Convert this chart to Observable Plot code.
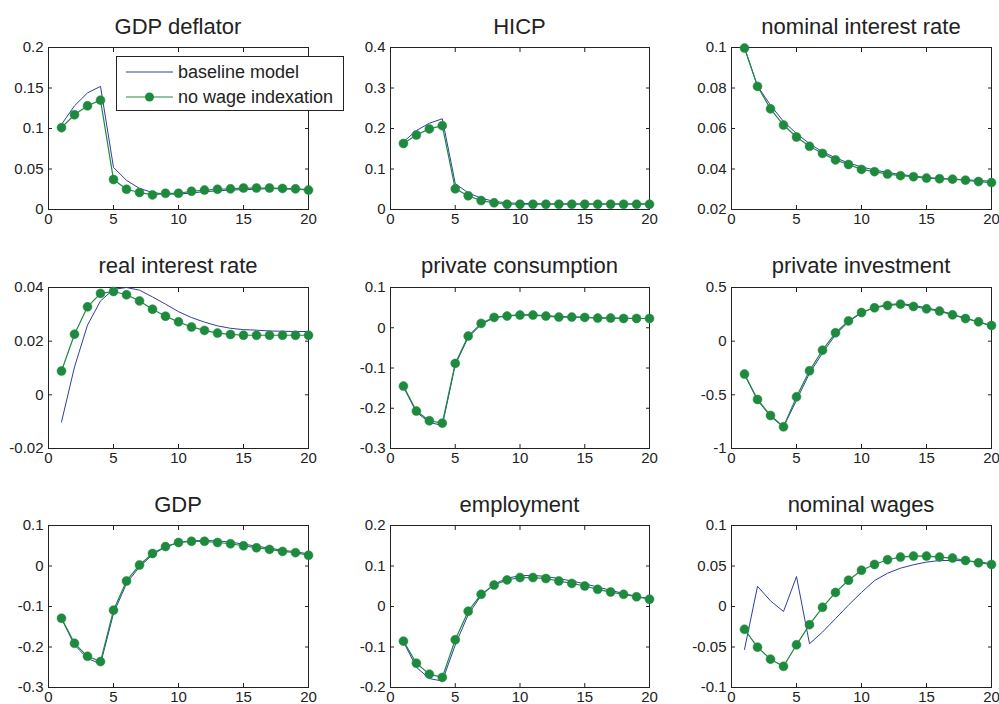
<!DOCTYPE html>
<html><head><meta charset="utf-8">
<script src="https://cdn.jsdelivr.net/npm/d3@7"></script>
<script src="https://cdn.jsdelivr.net/npm/@observablehq/plot@0.6"></script>
<style>
body{margin:0;background:#fff;font-family:"Liberation Sans",Arial,Helvetica,sans-serif;}
#wrap{position:relative;width:999px;height:704px;overflow:hidden;background:#fff;}
.panel{position:absolute;}
.title{position:absolute;text-align:center;font-size:22px;color:#222;white-space:nowrap;line-height:26px;}
#legend{position:absolute;box-sizing:border-box;border:1px solid #222;background:#fff;}
</style></head><body><div id="wrap"></div>
<script>
// ---- data ----
const periods = [1,2,3,4,5,6,7,8,9,10,11,12,13,14,15,16,17,18,19,20];
const xTicks = [0,5,10,15,20];
const seriesNames = ["baseline model", "no wage indexation"];
const panelTitles = ["GDP deflator","HICP","nominal interest rate","real interest rate","private consumption","private investment","GDP","employment","nominal wages"];

const gdpDeflatorTicks = [0,0.05,0.1,0.15,0.2];
const gdpDeflatorBaseline = [0.105,0.128,0.144,0.152,0.052,0.036,0.026,0.021,0.019,0.019,0.0205,0.022,0.023,0.024,0.0245,0.025,0.026,0.0255,0.025,0.025];
const gdpDeflatorNoIndex  = [0.101,0.117,0.128,0.135,0.037,0.025,0.021,0.018,0.020,0.020,0.0225,0.024,0.025,0.0255,0.0265,0.0265,0.0265,0.026,0.0255,0.024];

const hicpTicks = [0,0.1,0.2,0.3,0.4];
const hicpBaseline = [0.167,0.195,0.213,0.224,0.064,0.041,0.028,0.020,0.0165,0.015,0.0145,0.014,0.014,0.014,0.014,0.014,0.014,0.014,0.014,0.014];
const hicpNoIndex  = [0.163,0.184,0.199,0.207,0.051,0.034,0.022,0.0165,0.013,0.013,0.013,0.013,0.013,0.013,0.013,0.013,0.013,0.013,0.013,0.013];

const nominalRateTicks = [0.02,0.04,0.06,0.08,0.1];
const nominalRateBaseline = [0.1,0.081,0.0715,0.0635,0.0575,0.0525,0.0485,0.0455,0.043,0.041,0.0395,0.0383,0.0373,0.0365,0.0358,0.0353,0.035,0.0347,0.0343,0.034];
const nominalRateNoIndex  = [0.0997,0.0808,0.0697,0.0617,0.0558,0.0512,0.0477,0.0445,0.0422,0.0398,0.0387,0.0375,0.0367,0.0362,0.0355,0.0352,0.035,0.0345,0.0338,0.0333];

const realRateTicks = [-0.02,0,0.02,0.04];
const realRateBaseline = [-0.0101,0.0104,0.026,0.035,0.0393,0.04,0.039,0.0365,0.0338,0.031,0.0288,0.0271,0.0257,0.0248,0.0243,0.0241,0.0238,0.0237,0.0236,0.0236];
const realRateNoIndex  = [0.0089,0.0226,0.0328,0.0378,0.0385,0.0373,0.035,0.0319,0.0293,0.0272,0.0253,0.024,0.023,0.0225,0.0222,0.0222,0.0222,0.0222,0.0222,0.0222];

const consumptionTicks = [-0.3,-0.2,-0.1,0,0.1];
const consumptionBaseline = [-0.147,-0.21,-0.235,-0.243,-0.092,-0.024,0.008,0.025,0.030,0.032,0.032,0.030,0.028,0.027,0.026,0.025,0.024,0.024,0.023,0.023];
const consumptionNoIndex  = [-0.145,-0.207,-0.231,-0.237,-0.0886,-0.0207,0.0108,0.0257,0.029,0.0315,0.0315,0.029,0.0265,0.0265,0.0257,0.024,0.024,0.023,0.023,0.023];

const investmentTicks = [-1,-0.5,0,0.5];
const investmentBaseline = [-0.31,-0.55,-0.70,-0.80,-0.55,-0.30,-0.11,0.06,0.18,0.265,0.315,0.34,0.35,0.335,0.31,0.285,0.25,0.215,0.18,0.14];
const investmentNoIndex  = [-0.307,-0.543,-0.693,-0.798,-0.519,-0.276,-0.084,0.078,0.189,0.267,0.311,0.332,0.345,0.323,0.301,0.28,0.245,0.211,0.18,0.146];

const gdpTicks = [-0.3,-0.2,-0.1,0,0.1];
const gdpBaseline = [-0.13,-0.195,-0.228,-0.242,-0.117,-0.043,-0.002,0.028,0.047,0.058,0.062,0.063,0.062,0.059,0.054,0.049,0.044,0.039,0.035,0.030];
const gdpNoIndex  = [-0.129,-0.191,-0.223,-0.236,-0.109,-0.037,0.0025,0.031,0.048,0.058,0.061,0.061,0.058,0.055,0.050,0.045,0.041,0.036,0.033,0.0265];

const employmentTicks = [-0.2,-0.1,0,0.1,0.2];
const employmentBaseline = [-0.087,-0.15,-0.178,-0.184,-0.095,-0.02,0.027,0.055,0.07,0.076,0.077,0.074,0.069,0.063,0.056,0.048,0.04,0.032,0.025,0.019];
const employmentNoIndex  = [-0.0855,-0.14,-0.167,-0.175,-0.082,-0.0116,0.03,0.053,0.0656,0.0714,0.0714,0.069,0.063,0.057,0.0506,0.0423,0.0357,0.03,0.024,0.018];

const wagesTicks = [-0.1,-0.05,0,0.05,0.1];
const wagesBaseline = [-0.053,0.0249,0.007,-0.0062,0.037,-0.046,-0.0315,-0.015,0.0017,0.0174,0.032,0.041,0.0473,0.0515,0.0548,0.0568,0.0568,0.0564,0.0552,0.0527];
const wagesNoIndex  = [-0.0282,-0.0502,-0.065,-0.0739,-0.0473,-0.0224,-0.001,0.0174,0.0324,0.0448,0.0519,0.0577,0.061,0.0622,0.0622,0.061,0.0598,0.0568,0.054,0.0519];

// ---- layout & style ----
const BLUE = "#2d3fa2", GREEN = "#1e8a3e", INK = "#222";
const FONT = "'Liberation Sans', Arial, Helvetica, sans-serif";
const colL = [48, 390, 731], colR = [308, 649, 991];
const rowT = [47, 287, 525], rowB = [209, 448, 687];
const titleBaseline = [34, 273, 512];

const panels = [
  [gdpDeflatorBaseline, gdpDeflatorNoIndex, gdpDeflatorTicks],
  [hicpBaseline, hicpNoIndex, hicpTicks],
  [nominalRateBaseline, nominalRateNoIndex, nominalRateTicks],
  [realRateBaseline, realRateNoIndex, realRateTicks],
  [consumptionBaseline, consumptionNoIndex, consumptionTicks],
  [investmentBaseline, investmentNoIndex, investmentTicks],
  [gdpBaseline, gdpNoIndex, gdpTicks],
  [employmentBaseline, employmentNoIndex, employmentTicks],
  [wagesBaseline, wagesNoIndex, wagesTicks]
];

const fmt = d => String(+d.toFixed(4));
const wrap = document.getElementById("wrap");

panels.forEach(([base, noidx, yTicks], i) => {
  const col = i % 3, row = Math.floor(i / 3);
  const L = colL[col], R = colR[col], T = rowT[row], B = rowB[row];
  const ml = 62, mr = 14, mt = 12, mb = 32;
  const data = periods.map((t, k) => ({t, base: base[k], noidx: noidx[k]}));
  const svg = Plot.plot({
    width: R - L + ml + mr, height: B - T + mt + mb,
    marginLeft: ml, marginRight: mr, marginTop: mt, marginBottom: mb,
    style: {fontFamily: FONT, fontSize: "15px", color: INK, background: "transparent", overflow: "visible"},
    x: {domain: [0, 20], label: null},
    y: {domain: [yTicks[0], yTicks[yTicks.length - 1]], label: null},
    marks: [
      Plot.frame({stroke: INK, strokeWidth: 1}),
      Plot.axisX({ticks: xTicks, tickSize: -4, tickPadding: 8, tickFormat: fmt}),
      Plot.axisX({anchor: "top", ticks: xTicks, tickSize: -4, tickFormat: () => ""}),
      Plot.axisY({ticks: yTicks, tickSize: -4, tickPadding: 9, tickFormat: fmt}),
      Plot.axisY({anchor: "right", ticks: yTicks, tickSize: -4, tickFormat: () => ""}),
      Plot.line(data, {x: "t", y: "base", stroke: BLUE, strokeWidth: 1}),
      Plot.line(data, {x: "t", y: "noidx", stroke: GREEN, strokeWidth: 1.2}),
      Plot.dot(data, {x: "t", y: "noidx", r: 4.5, fill: GREEN, stroke: GREEN, strokeWidth: 0.5})
    ]
  });
  svg.classList.add("panel");
  svg.style.left = (L - ml) + "px";
  svg.style.top = (T - mt) + "px";
  wrap.appendChild(svg);

  const t = document.createElement("div");
  t.className = "title";
  t.textContent = panelTitles[i];
  t.style.left = L + "px";
  t.style.width = (R - L) + "px";
  t.style.top = (titleBaseline[row] - 20) + "px";
  wrap.appendChild(t);
});

// legend
const lg = document.createElement("div");
lg.id = "legend";
lg.style.left = "116px"; lg.style.top = "56px"; lg.style.width = "228px"; lg.style.height = "55px";
const ns = "http://www.w3.org/2000/svg";
const ls = document.createElementNS(ns, "svg");
ls.setAttribute("width", "226"); ls.setAttribute("height", "53");
ls.style.position = "absolute"; ls.style.left = "0"; ls.style.top = "0";
const rows = [{y: 15, color: BLUE, dot: false}, {y: 40, color: GREEN, dot: true}];
rows.forEach((r, k) => {
  const ln = document.createElementNS(ns, "line");
  ln.setAttribute("x1", 9); ln.setAttribute("x2", 56); ln.setAttribute("y1", r.y); ln.setAttribute("y2", r.y);
  ln.setAttribute("stroke", r.color); ln.setAttribute("stroke-width", r.dot ? 1.2 : 1);
  ls.appendChild(ln);
  if (r.dot) {
    const c = document.createElementNS(ns, "circle");
    c.setAttribute("cx", 32.5); c.setAttribute("cy", r.y); c.setAttribute("r", 4.5);
    c.setAttribute("fill", GREEN);
    ls.appendChild(c);
  }
  const tx = document.createElementNS(ns, "text");
  tx.setAttribute("x", 61); tx.setAttribute("y", r.y); tx.setAttribute("dy", "0.35em");
  tx.setAttribute("font-family", FONT); tx.setAttribute("font-size", "18"); tx.setAttribute("fill", INK);
  tx.textContent = seriesNames[k];
  ls.appendChild(tx);
});
lg.appendChild(ls);
wrap.appendChild(lg);
</script></body></html>
